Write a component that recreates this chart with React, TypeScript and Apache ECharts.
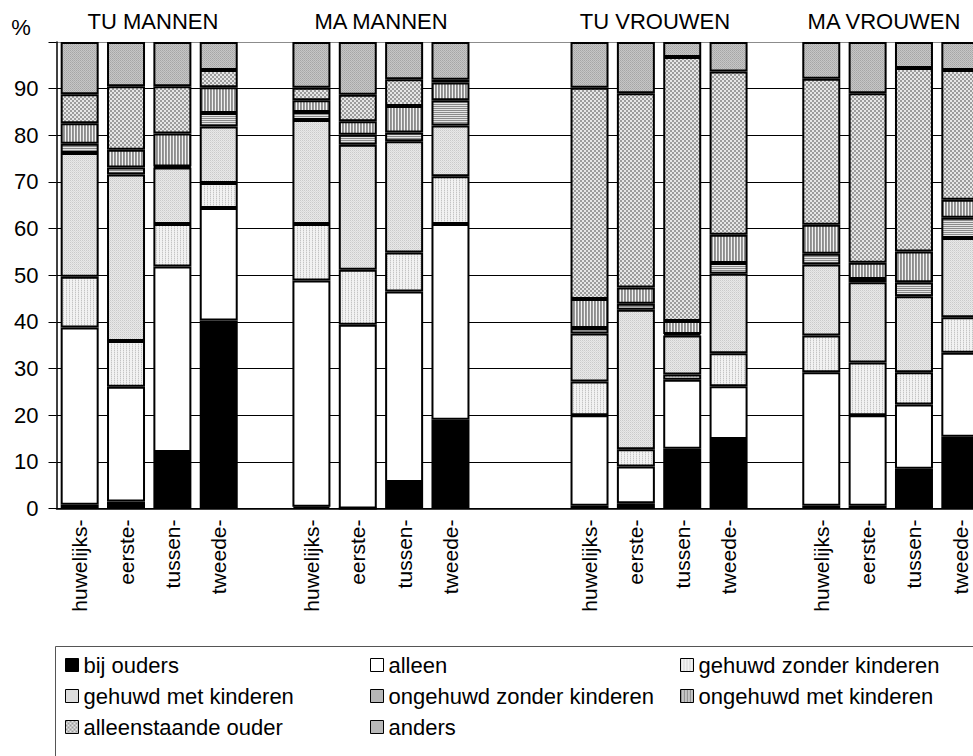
import React, { useEffect, useRef } from 'react';
import * as echarts from 'echarts';

const FONT = "'Liberation Sans', Arial, sans-serif";

// 20 category slots: 4 bars, gap, 4 bars, 2 gaps, 4 bars, gap, 4 bars
const categories = [
  'huwelijks-', 'eerste-', 'tussen-', 'tweede-', '',
  'huwelijks-', 'eerste-', 'tussen-', 'tweede-', '', '',
  'huwelijks-', 'eerste-', 'tussen-', 'tweede-', '',
  'huwelijks-', 'eerste-', 'tussen-', 'tweede-',
];

const groupTitles = ['TU MANNEN', 'MA MANNEN', 'TU VROUWEN', 'MA VROUWEN'];

const seriesNames = [
  'bij ouders', 'alleen', 'gehuwd zonder kinderen', 'gehuwd met kinderen',
  'ongehuwd zonder kinderen', 'ongehuwd met kinderen', 'alleenstaande ouder', 'anders',
];

const bijOuders = [0.8, 1.5, 12.1, 40.3, '-', 0.4, 0, 5.7, 19.0, '-', '-', 0.6, 1.1, 12.8, 14.9, '-', 0.6, 0.6, 8.5, 15.4];
const alleen = [38.0, 24.6, 39.8, 24.1, '-', 48.5, 39.4, 40.8, 42.0, '-', '-', 19.4, 7.9, 14.8, 11.3, '-', 28.6, 19.4, 13.8, 18.0];
const gehuwdZonder = [10.9, 9.8, 9.1, 5.4, '-', 12.1, 11.8, 8.4, 10.2, '-', '-', 7.2, 3.7, 1.1, 7.1, '-', 7.9, 11.3, 6.9, 7.6];
const gehuwdMet = [26.5, 35.7, 12.1, 12.1, '-', 22.3, 26.8, 23.8, 10.9, '-', '-', 10.3, 29.9, 8.4, 17.0, '-', 15.2, 17.2, 16.3, 17.0];
const ongehuwdZonder = [2.0, 1.5, 0.2, 2.9, '-', 1.7, 2.1, 1.9, 5.4, '-', '-', 1.2, 1.3, 0.3, 2.3, '-', 2.3, 0.7, 3.0, 4.3];
const ongehuwdMet = [4.4, 3.8, 7.1, 5.5, '-', 2.5, 2.9, 5.7, 3.8, '-', '-', 6.2, 3.5, 2.8, 6.1, '-', 6.2, 3.5, 6.6, 3.9];
const alleenstaande = [6.2, 13.6, 10.1, 3.7, '-', 2.7, 5.7, 5.7, 0.6, '-', '-', 45.3, 41.6, 56.6, 35.0, '-', 31.3, 36.3, 39.3, 27.8];
const anders = [11.2, 9.5, 9.5, 6.0, '-', 9.8, 11.3, 8.0, 8.1, '-', '-', 9.8, 11.0, 3.2, 6.3, '-', 7.9, 11.0, 5.6, 6.0];

const yTicks = [0, 10, 20, 30, 40, 50, 60, 70, 80, 90, 100];

function makeTile(rows: string[][]) {
  const h = rows.length;
  const w = rows[0].length;
  const c = document.createElement('canvas');
  c.width = w;
  c.height = h;
  const ctx = c.getContext('2d')!;
  rows.forEach((row, y) =>
    row.forEach((col, x) => {
      ctx.fillStyle = col;
      ctx.fillRect(x, y, 1, 1);
    })
  );
  return { image: c.toDataURL(), repeat: 'repeat', imageWidth: w, imageHeight: h };
}

function buildFills() {
  return [
    '#000000',
    '#ffffff',
    makeTile([
      ['#c4c4c4', '#f2f2f2', '#f2f2f2'],
      ['#e2e2e2', '#f2f2f2', '#f2f2f2'],
    ]),
    makeTile([
      ['#cacaca', '#e8e8e8'],
      ['#e8e8e8', '#dadada'],
    ]),
    makeTile([
      ['#8a8a8a', '#8a8a8a'],
      ['#e4e4e4', '#e4e4e4'],
    ]),
    makeTile([['#8c8c8c', '#9a9a9a', '#f2f2f2']]),
    makeTile([
      ['#9c9c9c', '#9c9c9c', '#e6e6e6', '#e6e6e6'],
      ['#9c9c9c', '#9c9c9c', '#e6e6e6', '#e6e6e6'],
      ['#e6e6e6', '#e6e6e6', '#9c9c9c', '#9c9c9c'],
      ['#e6e6e6', '#e6e6e6', '#9c9c9c', '#9c9c9c'],
    ]),
    makeTile([
      ['#a6a6a6', '#c6c6c6'],
      ['#c6c6c6', '#b0b0b0'],
    ]),
  ];
}

export default function App() {
  const ref = useRef<HTMLDivElement>(null);

  useEffect(() => {
    if (!ref.current) return;
    const chart = echarts.init(ref.current, null, { renderer: 'svg' });
    const fills = buildFills();
    const dataList = [bijOuders, alleen, gehuwdZonder, gehuwdMet, ongehuwdZonder, ongehuwdMet, alleenstaande, anders];

    const series = seriesNames.map((name, i) => ({
      name,
      type: 'bar',
      stack: 'total',
      barWidth: 38,
      data: dataList[i],
      itemStyle: { color: fills[i], borderColor: '#000', borderWidth: 2 },
      emphasis: { disabled: true },
    }));

    const legendText = { color: '#000', fontSize: 22, fontFamily: FONT, lineHeight: 22 };
    const legendCommon = {
      orient: 'vertical',
      top: 654,
      itemWidth: 13,
      itemHeight: 13,
      itemGap: 9,
      icon: 'rect',
      selectedMode: false,
      padding: 0,
      textStyle: legendText,
      itemStyle: { borderColor: '#000', borderWidth: 1 },
    };

    const titleX = [153, 381, 655, 884];

    const splitColors = yTicks.map((t) => (t === 100 ? '#8c8c8c' : '#000'));

    chart.setOption({
      animation: false,
      backgroundColor: '#fff',
      grid: { left: 56.5, top: 42, width: 927, height: 466.5, containLabel: false, outerBoundsMode: 'none' },
      xAxis: {
        type: 'category',
        data: categories,
        axisTick: { show: false },
        axisLine: { lineStyle: { color: '#000', width: 1.5 } },
        axisLabel: {
          interval: 0,
          rotate: 90,
          margin: 11,
          color: '#000',
          fontSize: 21,
          fontFamily: FONT,
        },
      },
      yAxis: {
        type: 'value',
        min: 0,
        max: 100,
        interval: 10,
        axisLine: { show: true, lineStyle: { color: '#000', width: 1.5 } },
        axisTick: { show: true, length: 8, lineStyle: { color: '#000' } },
        axisLabel: {
          margin: 18,
          color: '#000',
          fontSize: 22,
          fontFamily: FONT,
          formatter: (v: number) => (v === 100 ? '' : String(v)),
        },
        splitLine: { show: true, lineStyle: { color: splitColors, width: 1 } },
      },
      legend: [
        { ...legendCommon, left: 65, data: [seriesNames[0], seriesNames[3], seriesNames[6]] },
        { ...legendCommon, left: 370, data: [seriesNames[1], seriesNames[4], seriesNames[7]] },
        { ...legendCommon, left: 680, data: [seriesNames[2], seriesNames[5]] },
      ],
      graphic: [
        {
          type: 'rect',
          shape: { x: 55.5, y: 646.5, width: 1000, height: 200 },
          style: { fill: 'none', stroke: '#555', lineWidth: 1 },
          silent: true,
        },
        {
          type: 'text',
          x: 21,
          y: 27,
          style: { text: '%', fontSize: 22, fontFamily: FONT, fill: '#000', align: 'center', verticalAlign: 'middle' },
        },
        ...groupTitles.map((t, i) => ({
          type: 'text',
          x: titleX[i],
          y: 21,
          style: { text: t, fontSize: 22, fontFamily: FONT, fill: '#000', align: 'center', verticalAlign: 'middle' },
        })),
      ],
      series,
    });

    return () => chart.dispose();
  }, []);

  return (
    <div
      ref={ref}
      style={{ position: 'absolute', left: 0, top: 0, width: 973, height: 756, overflow: 'hidden' }}
    />
  );
}
